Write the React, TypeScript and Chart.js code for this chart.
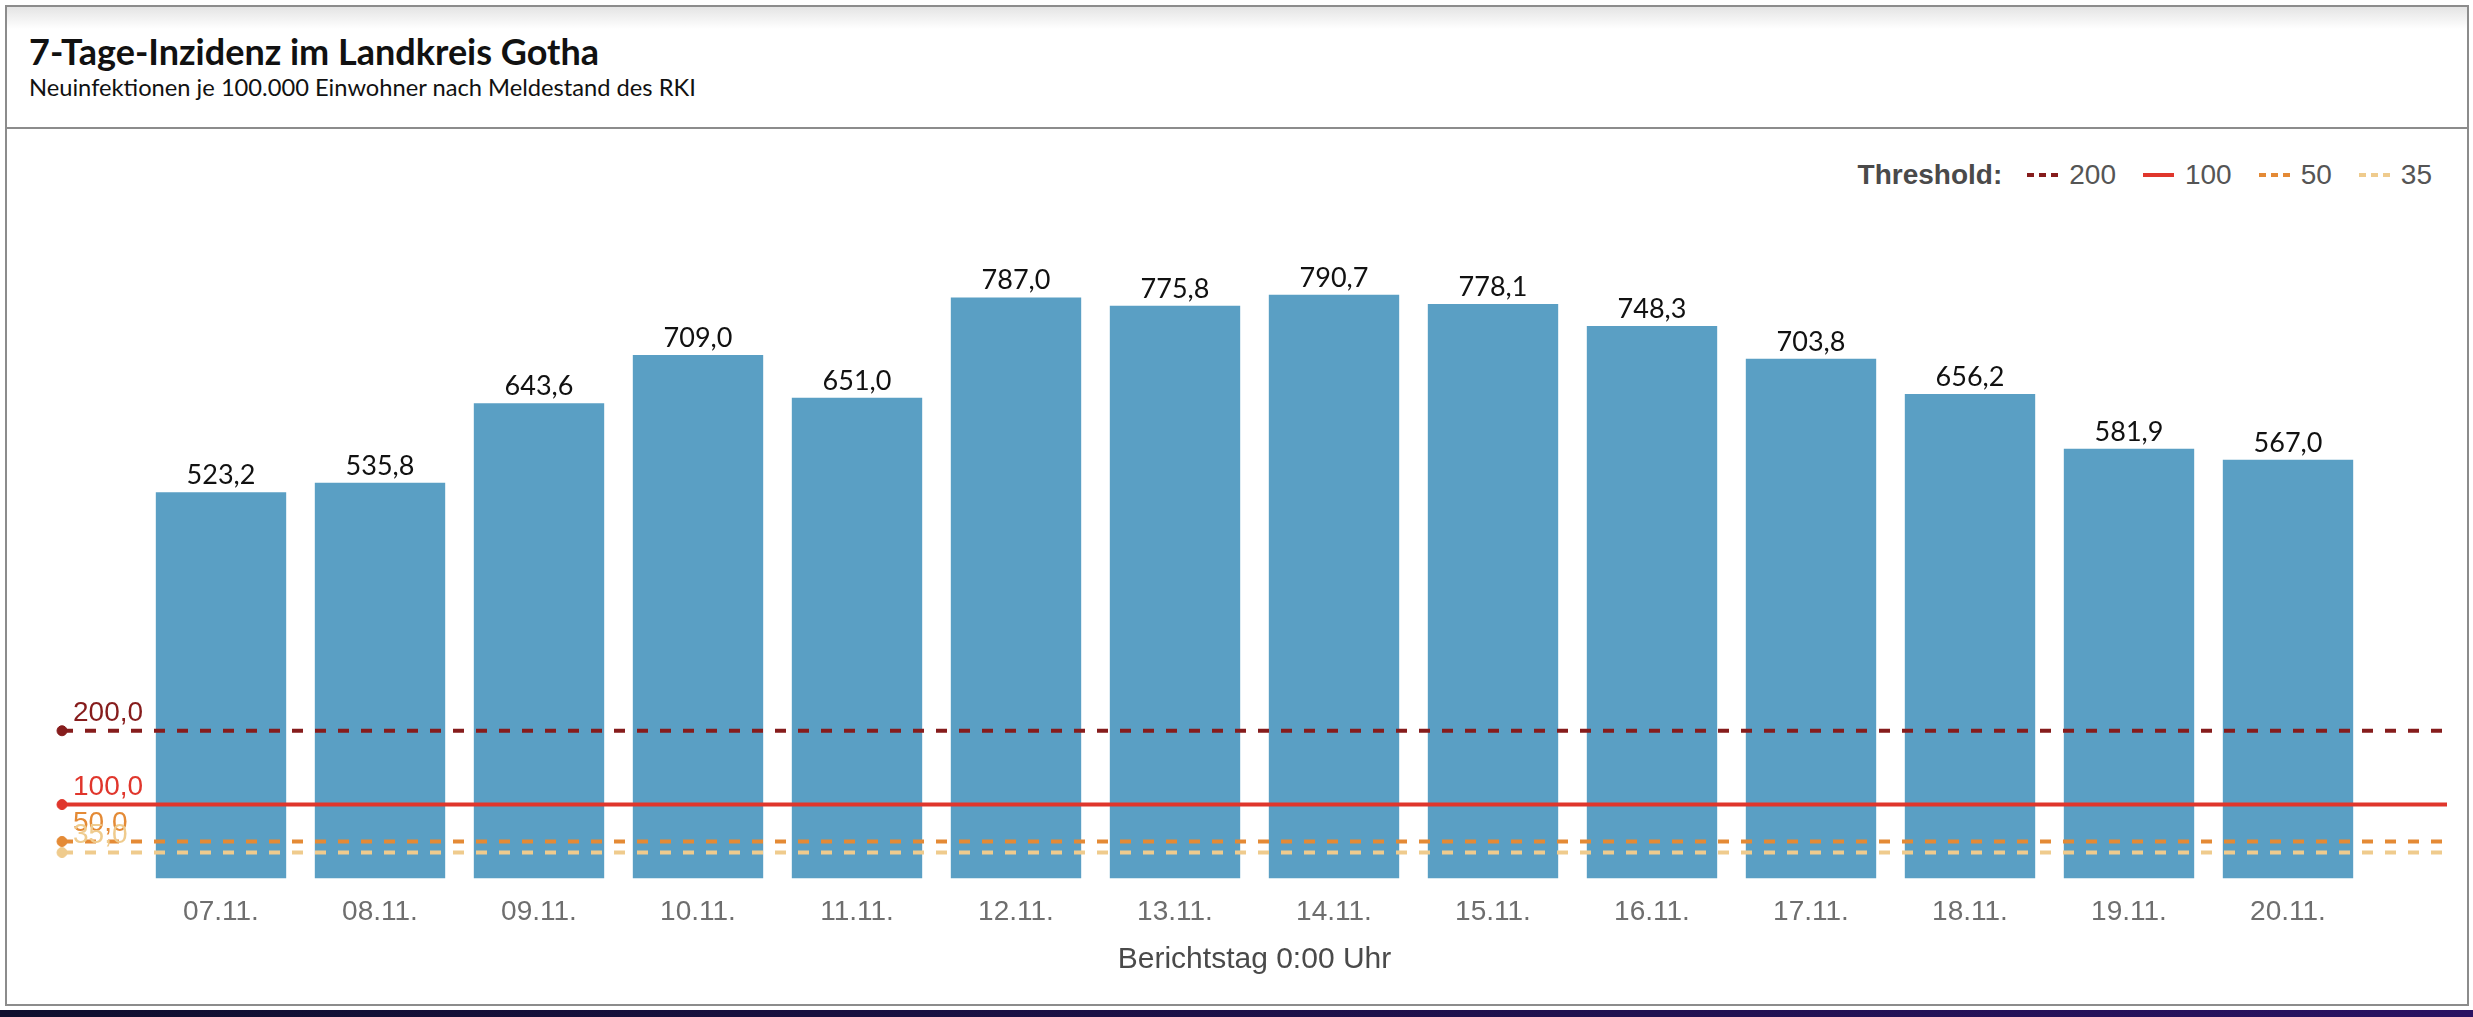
import React, { useEffect, useRef } from 'react';
import { Chart, registerables } from 'chart.js';

Chart.register(...registerables);

// Meldedatum (x-axis labels)
const dates = ['07.11.', '08.11.', '09.11.', '10.11.', '11.11.', '12.11.', '13.11.', '14.11.', '15.11.', '16.11.', '17.11.', '18.11.', '19.11.', '20.11.'];
// 7-Tage-Inzidenz per day
const incidence = [523.2, 535.8, 643.6, 709.0, 651.0, 787.0, 775.8, 790.7, 778.1, 748.3, 703.8, 656.2, 581.9, 567.0];
// threshold lines
const thresholds = [200, 100, 50, 35];
// x range the threshold lines span (one slot before the first and after the last day)
const lineStart = -1;
const lineEnd = 14;

const SANS = '"Liberation Sans", Arial, Helvetica, sans-serif';
const LATO = 'Lato, "Open Sans", sans-serif';

const lineColors = ['#861c1c', '#e0362c', '#e48a35', '#efcb8d'];
const lineDashed = [true, false, true, true];

const fmt = (v: number) => v.toFixed(1).replace('.', ',');

const labelPlugin = {
  id: 'labelPlugin',
  afterDatasetsDraw(chart: any) {
    const ctx = chart.ctx;
    ctx.save();
    // values above bars
    const barMeta = chart.getDatasetMeta(0);
    ctx.font = `27px ${LATO}`;
    ctx.fillStyle = '#111';
    ctx.textAlign = 'center';
    ctx.textBaseline = 'alphabetic';
    barMeta.data.forEach((bar: any, i: number) => {
      ctx.fillText(fmt(incidence[i]), bar.x, bar.y - 8);
    });
    // threshold labels at start of each line
    ctx.font = `28px ${SANS}`;
    ctx.textAlign = 'left';
    thresholds.forEach((t, i) => {
      const pt = chart.getDatasetMeta(i + 1).data[0];
      if (!pt) return;
      ctx.fillStyle = lineColors[i];
      ctx.fillText(fmt(t), pt.x + 11, pt.y - 10);
    });
    ctx.restore();
  },
};

const BarChart = () => {
  const canvasRef = useRef<HTMLCanvasElement>(null);
  const chartRef = useRef<Chart | null>(null);

  useEffect(() => {
    const ctx = canvasRef.current!.getContext('2d')!;
    Chart.defaults.font.family = SANS;

    const lineSets = thresholds.map((t, i) => ({
      type: 'line' as const,
      label: String(t),
      data: [{ x: lineStart, y: t }, { x: lineEnd, y: t }],
      borderColor: lineColors[i],
      backgroundColor: lineColors[i],
      borderWidth: 4,
      borderDash: lineDashed[i] ? [11, 12] : [],
      pointRadius: (c: any) => (c.dataIndex === 0 ? 5 : 0),
      pointBackgroundColor: lineColors[i],
      pointBorderColor: lineColors[i],
      pointBorderWidth: 1,
      clip: false as any,
      order: 0,
    }));

    chartRef.current = new Chart(ctx, {
      type: 'bar',
      data: {
        datasets: [
          {
            type: 'bar',
            label: '7-Tage-Inzidenz',
            data: incidence.map((v, i) => ({ x: i, y: v })),
            backgroundColor: '#5a9fc4',
            barPercentage: 0.82,
            categoryPercentage: 1,
            order: 1,
          },
          ...lineSets,
        ] as any,
      },
      options: {
        animation: false,
        responsive: true,
        maintainAspectRatio: false,
        layout: { padding: { left: 54, right: 18, top: 84, bottom: 29 } },
        plugins: {
          legend: { display: false },
          tooltip: { enabled: false },
        },
        scales: {
          x: {
            type: 'linear',
            offset: false,
            min: lineStart,
            max: lineEnd,
            grid: { display: false, drawTicks: false, offset: false },
            border: { display: false },
            afterBuildTicks: (scale: any) => {
              scale.ticks = dates.map((_, i) => ({ value: i }));
            },
            afterFit: (scale: any) => {
              // ticks sit inside the range, no extra room for edge labels
              scale.paddingLeft = 0;
              scale.paddingRight = 0;
            },
            ticks: {
              autoSkip: false,
              maxRotation: 0,
              padding: 17,
              color: '#6e6e6e',
              font: { size: 28, family: SANS, lineHeight: 1.2 },
              callback: (v: any) => dates[v] ?? '',
            },
            title: {
              display: true,
              text: 'Berichtstag 0:00 Uhr',
              color: '#4a4a4a',
              font: { size: 30, family: SANS, lineHeight: 0.9 },
              padding: 0,
            },
          },
          y: {
            display: false,
            min: 0,
            max: 900,
          },
        },
      },
      plugins: [labelPlugin],
    });

    return () => {
      if (chartRef.current) {
        chartRef.current.destroy();
      }
    };
  }, []);

  return <canvas ref={canvasRef} style={{ width: '100%', height: '100%' }} />;
};

const Legend = () => (
  <div
    style={{
      position: 'absolute',
      right: 41,
      top: 158,
      height: 34,
      display: 'flex',
      alignItems: 'center',
      fontFamily: SANS,
      fontSize: 28,
      color: '#555',
      whiteSpace: 'nowrap',
    }}
  >
    <span style={{ fontWeight: 'bold', color: '#4a4a4a', marginRight: 25 }}>Threshold:</span>
    {thresholds.map((t, i) => (
      <span key={t} style={{ display: 'flex', alignItems: 'center', marginLeft: i ? 27 : 0 }}>
        <svg width={31} height={6} style={{ marginRight: 11 }}>
          <line
            x1={0}
            y1={3}
            x2={31}
            y2={3}
            stroke={lineColors[i]}
            strokeWidth={4}
            strokeDasharray={lineDashed[i] ? '7 5' : undefined}
          />
        </svg>
        {t}
      </span>
    ))}
  </div>
);

const App = () => (
  <div style={{ position: 'fixed', left: 0, top: 0, width: 2473, height: 1017, background: '#fff', overflow: 'hidden' }}>
    <div
      style={{
        position: 'absolute',
        left: 5,
        top: 5,
        width: 2460,
        height: 997,
        border: '2px solid #8c8c8c',
        background: 'linear-gradient(#e4e4e4 0px, #ffffff 22px)',
        boxSizing: 'content-box',
      }}
    />
    <div
      style={{
        position: 'absolute',
        left: 29,
        top: 30,
        fontFamily: LATO,
        fontWeight: 'bold',
        fontSize: 36,
        lineHeight: 1.2,
        color: '#111',
      }}
    >
      7-Tage-Inzidenz im Landkreis Gotha
    </div>
    <div
      style={{
        position: 'absolute',
        left: 29,
        top: 73,
        fontFamily: LATO,
        fontSize: 23.7,
        lineHeight: 1.2,
        color: '#111',
      }}
    >
      Neuinfektionen je 100.000 Einwohner nach Meldestand des RKI
    </div>
    <div style={{ position: 'absolute', left: 7, top: 127, width: 2460, height: 2, background: '#8c8c8c' }} />
    <Legend />
    <div style={{ position: 'absolute', left: 8, top: 130, width: 2457, height: 872 }}>
      <BarChart />
    </div>
    <div style={{ position: 'absolute', left: 0, top: 1010, width: 2473, height: 7, background: 'linear-gradient(90deg, #0f0f2e, #2a1262)' }} />
  </div>
);

export default App;
